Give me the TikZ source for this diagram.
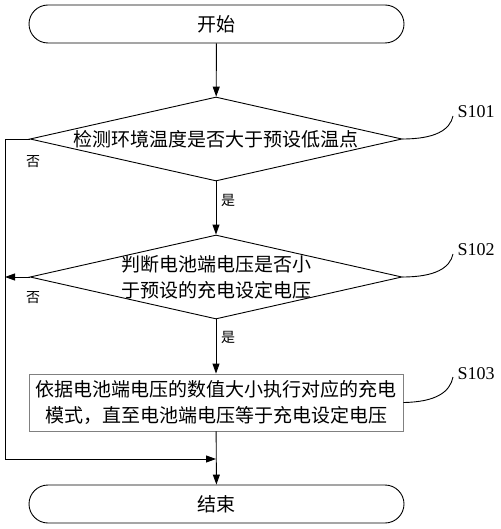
\documentclass[tikz,border=0pt]{standalone}
\usepackage{fontspec}
\setmainfont{Liberation Serif}
\newfontfamily\cjk{Noto Sans CJK SC}
\usetikzlibrary{shapes.geometric,arrows.meta}
\begin{document}
\begin{tikzpicture}[x=1pt,y=-1pt,
  line width=0.9pt,
  arr/.style={-{Triangle[length=10pt,width=7pt]}},
  term/.style={draw, rounded corners=19pt, minimum width=375pt, minimum height=38pt, inner sep=0pt, font=\cjk\fontsize{19}{22}\selectfont},
  dia/.style={draw, diamond, minimum width=372pt, minimum height=84pt, inner sep=0pt},
  dtext/.style={font=\cjk\fontsize{19}{26}\selectfont, align=center, inner sep=0pt},
  proc/.style={draw=gray, line width=0.8pt, minimum width=374pt, minimum height=57pt, inner sep=0pt, align=center, font=\cjk\fontsize{19}{26}\selectfont},
  yn/.style={font=\cjk\fontsize{14}{16}\selectfont, inner sep=0pt},
  sl/.style={font=\fontsize{18}{20}\selectfont, inner sep=0pt}
]
\useasboundingbox (0,0) rectangle (500,529);
\node[term] (start) at (216.5,24) {开始};
\node[dia] (d1) at (216,139) {};
\node[dtext] (t1) at (d1) {检测环境温度是否大于预设低温点};
\node[dia] (d2) at (216,277) {};
\node[dtext] (t2) at (d2) {判断电池端电压是否小\\于预设的充电设定电压};
\node[proc] (p) at (216,402.5) {依据电池端电压的数值大小执行对应的充电\\模式，直至电池端电压等于充电设定电压};
\node[term] (end) at (216.5,504) {结束};

\coordinate (j) at (216,459);
\coordinate (l1) at (5,139);
\coordinate (l2) at (5,277);

\draw[arr] (start) -- (d1);
\draw[arr] (d1) -- (d2);
\draw[arr] (d2) -- (p);
\draw[arr] (p) -- (end);
\draw[arr] (d1.west) -- (l1) |- (j);
\draw[arr] (d2.west) -- (l2);

\node[yn] (n1) at (33,162) {否};
\node[yn] (n2) at (33,298) {否};
\node[yn] (y1) at (228,200) {是};
\node[yn] (y2) at (228,337) {是};

\coordinate (c1) at (453,116);
\coordinate (c2) at (453,254);
\coordinate (c3) at (453,377);
\node[sl] (s1) at (476,112) {S101};
\node[sl] (s2) at (476,250) {S102};
\node[sl] (s3) at (476,374) {S103};
\draw (d1.east) .. controls (435,139) and (450,130) .. (c1);
\draw (d2.east) .. controls (435,277) and (450,268) .. (c2);
\draw (p.east) .. controls (436,402) and (450,392) .. (c3);
\end{tikzpicture}
\end{document}
